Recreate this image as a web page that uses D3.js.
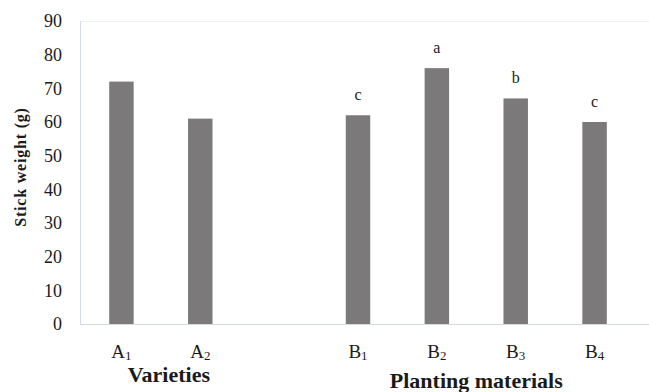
<!DOCTYPE html>
<html>
<head>
<meta charset="utf-8">
<script src="https://cdn.jsdelivr.net/npm/d3@7"></script>
<style>
  html, body { margin: 0; padding: 0; background: #fff; }
  svg { display: block; }
  svg text { font-family: 'Liberation Serif', 'Times New Roman', serif !important; fill: #1a1a1a; }
</style>
</head>
<body>
<svg id="chart" width="649" height="392" font-family="'Liberation Serif', serif"></svg>
<script>
// ---- data ----
const categories = ["A1", "A2", "gap", "B1", "B2", "B3", "B4"];
const tickLetters = ["A", "A", "", "B", "B", "B", "B"];
const tickSubs = ["1", "2", "", "1", "2", "3", "4"];
const varietyKeys = ["A1", "A2"];
const varietyValues = [72, 61];
const materialKeys = ["B1", "B2", "B3", "B4"];
const materialValues = [62, 76, 67, 60];
const materialLetters = ["c", "a", "b", "c"];
const yTicks = [0, 10, 20, 30, 40, 50, 60, 70, 80, 90];
const groupTitles = ["Varieties", "Planting materials"];

// ---- layout ----
const FONT = "'Liberation Serif', 'Times New Roman', serif";
const svg = d3.select("#chart");
const plot = { left: 80, right: 634, top: 21, bottom: 324 };

const x = d3.scaleBand()
  .domain(categories)
  .range([plot.left + 2, plot.right])
  .paddingInner(0.69)
  .paddingOuter(0.345);

const y = d3.scaleLinear().domain([0, 90]).range([plot.bottom, plot.top]);

// plot area border
svg.append("rect")
  .attr("x", plot.left + 0.5).attr("y", plot.top + 0.5)
  .attr("width", 700).attr("height", plot.bottom - plot.top)
  .attr("fill", "none").attr("stroke", "#eef1f4").attr("stroke-width", 1);

// y axis
const yAxis = d3.axisLeft(y).tickValues(yTicks).tickSize(0).tickPadding(18);
const gy = svg.append("g").attr("transform", `translate(${plot.left},0)`).call(yAxis)
  .attr("font-family", FONT).attr("font-size", 18);
gy.select(".domain").attr("stroke", "#cfdbe6");
gy.selectAll("text").attr("font-family", FONT).attr("fill", "#222");

// bottom axis line
svg.append("line")
  .attr("x1", plot.left).attr("x2", 649)
  .attr("y1", plot.bottom + 0.5).attr("y2", plot.bottom + 0.5)
  .attr("stroke", "#cfdbe6");

// bars
const bars = varietyKeys.map((k, i) => ({ key: k, value: varietyValues[i], letter: "" }))
  .concat(materialKeys.map((k, i) => ({ key: k, value: materialValues[i], letter: materialLetters[i] })));

svg.append("g").selectAll("rect").data(bars).join("rect")
  .attr("x", d => x(d.key))
  .attr("y", d => y(d.value))
  .attr("width", x.bandwidth())
  .attr("height", d => y(0) - y(d.value))
  .attr("fill", "#7b7979");

// significance letters
svg.append("g").selectAll("text").data(bars.filter(d => d.letter)).join("text")
  .attr("x", d => x(d.key) + x.bandwidth() / 2)
  .attr("y", d => y(d.value) - 15)
  .attr("text-anchor", "middle")
  .attr("font-family", FONT)
  .style("font-size", "16px")
  .text(d => d.letter);

// x tick labels with subscripts
const tl = svg.append("g").selectAll("text")
  .data(categories.map((c, i) => ({ key: c, letter: tickLetters[i], sub: tickSubs[i] })).filter(d => d.letter))
  .join("text")
  .attr("x", d => x(d.key) + x.bandwidth() / 2)
  .attr("y", 358)
  .attr("text-anchor", "middle")
  .attr("font-family", FONT)
  .style("font-size", "19px");
tl.append("tspan").text(d => d.letter);
tl.append("tspan").attr("dy", 2).style("font-size", "13px").text(d => d.sub);

// group titles
const cx = keys => d3.mean(keys, k => x(k) + x.bandwidth() / 2);
svg.append("text")
  .attr("x", cx(varietyKeys) + 8).attr("y", 382)
  .attr("text-anchor", "middle")
  .attr("font-family", FONT)
  .style("font-size", "22px").style("font-weight", "bold")
  .text(groupTitles[0]);
svg.append("text")
  .attr("x", cx(materialKeys)).attr("y", 388)
  .attr("text-anchor", "middle")
  .attr("font-family", FONT)
  .style("font-size", "22px").style("font-weight", "bold")
  .text(groupTitles[1]);

// y axis title
svg.append("text")
  .attr("transform", `translate(26,167) rotate(-90)`)
  .attr("text-anchor", "middle")
  .attr("font-family", FONT)
  .style("font-size", "16px").style("font-weight", "bold")
  .style("letter-spacing", "0.8px")
  .text("Stick weight (g)");
</script>
</body>
</html>
